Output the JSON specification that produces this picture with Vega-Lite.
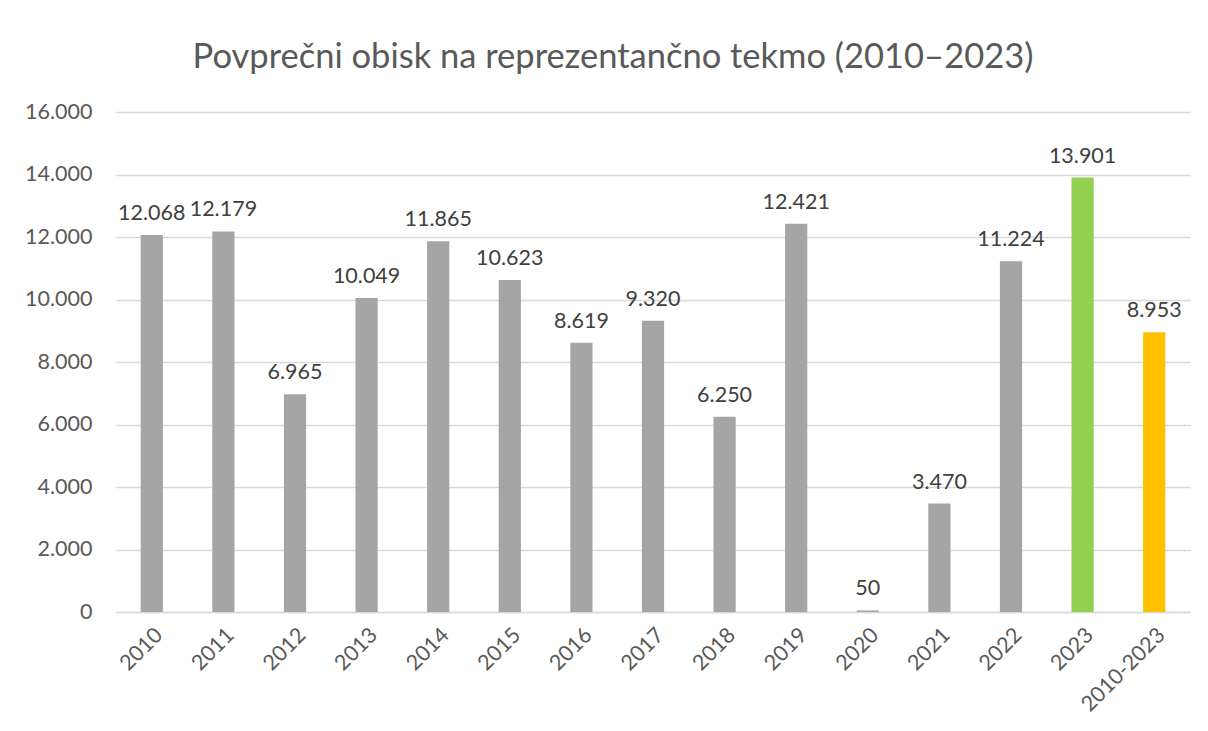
{
  "$schema": "https://vega.github.io/schema/vega-lite/v6.json",
  "width": 1074,
  "height": 500,
  "autosize": {"type": "none"},
  "padding": {"left": 116, "top": 112, "right": 18, "bottom": 119},
  "background": "white",
  "config": {
    "locale": {"number": {"decimal": ",", "thousands": ".", "grouping": [3], "currency": ["", " €"]}},
    "view": {"stroke": null},
    "font": "Lato"
  },
  "title": {
    "text": "Povprečni obisk na reprezentančno tekmo (2010–2023)",
    "font": "Lato",
    "fontSize": 34.5,
    "fontWeight": "normal",
    "color": "#595959",
    "anchor": "middle",
    "dx": -40,
    "offset": 26
  },
  "data": {
    "values": [
      {"leto": "2010", "obisk": 12068, "skupina": "leto"},
      {"leto": "2011", "obisk": 12179, "skupina": "leto"},
      {"leto": "2012", "obisk": 6965, "skupina": "leto"},
      {"leto": "2013", "obisk": 10049, "skupina": "leto"},
      {"leto": "2014", "obisk": 11865, "skupina": "leto"},
      {"leto": "2015", "obisk": 10623, "skupina": "leto"},
      {"leto": "2016", "obisk": 8619, "skupina": "leto"},
      {"leto": "2017", "obisk": 9320, "skupina": "leto"},
      {"leto": "2018", "obisk": 6250, "skupina": "leto"},
      {"leto": "2019", "obisk": 12421, "skupina": "leto"},
      {"leto": "2020", "obisk": 50, "skupina": "leto"},
      {"leto": "2021", "obisk": 3470, "skupina": "leto"},
      {"leto": "2022", "obisk": 11224, "skupina": "leto"},
      {"leto": "2023", "obisk": 13901, "skupina": "zadnje"},
      {"leto": "2010-2023", "obisk": 8953, "skupina": "povprecje"}
    ]
  },
  "encoding": {
    "x": {
      "field": "leto",
      "type": "nominal",
      "sort": null,
      "scale": {"paddingInner": 0.69, "paddingOuter": 0.345},
      "axis": {
        "title": null,
        "labelAngle": -45,
        "labelFont": "Lato",
        "labelFontSize": 21.5,
        "labelColor": "#595959",
        "labelPadding": 12,
        "ticks": false,
        "domain": true,
        "domainColor": "#D9D9D9",
        "domainWidth": 1.5
      }
    },
    "y": {
      "field": "obisk",
      "type": "quantitative",
      "scale": {"domain": [0, 16000], "nice": false},
      "axis": {
        "title": null,
        "values": [0, 2000, 4000, 6000, 8000, 10000, 12000, 14000, 16000],
        "format": ",d",
        "labelFont": "Lato",
        "labelFontSize": 21.5,
        "labelColor": "#595959",
        "labelPadding": 24,
        "ticks": false,
        "domain": false,
        "grid": true,
        "gridColor": "#D9D9D9",
        "gridWidth": 1.5
      }
    }
  },
  "layer": [
    {
      "mark": {"type": "bar"},
      "encoding": {
        "color": {
          "field": "skupina",
          "type": "nominal",
          "scale": {"domain": ["leto", "zadnje", "povprecje"], "range": ["#A5A5A5", "#92D050", "#FFC000"]},
          "legend": null
        }
      }
    },
    {
      "mark": {"type": "text", "baseline": "bottom", "dy": -10, "font": "Lato", "fontSize": 21.5, "color": "#404040"},
      "encoding": {
        "text": {"field": "obisk", "type": "quantitative", "format": ",d"}
      }
    }
  ]
}
